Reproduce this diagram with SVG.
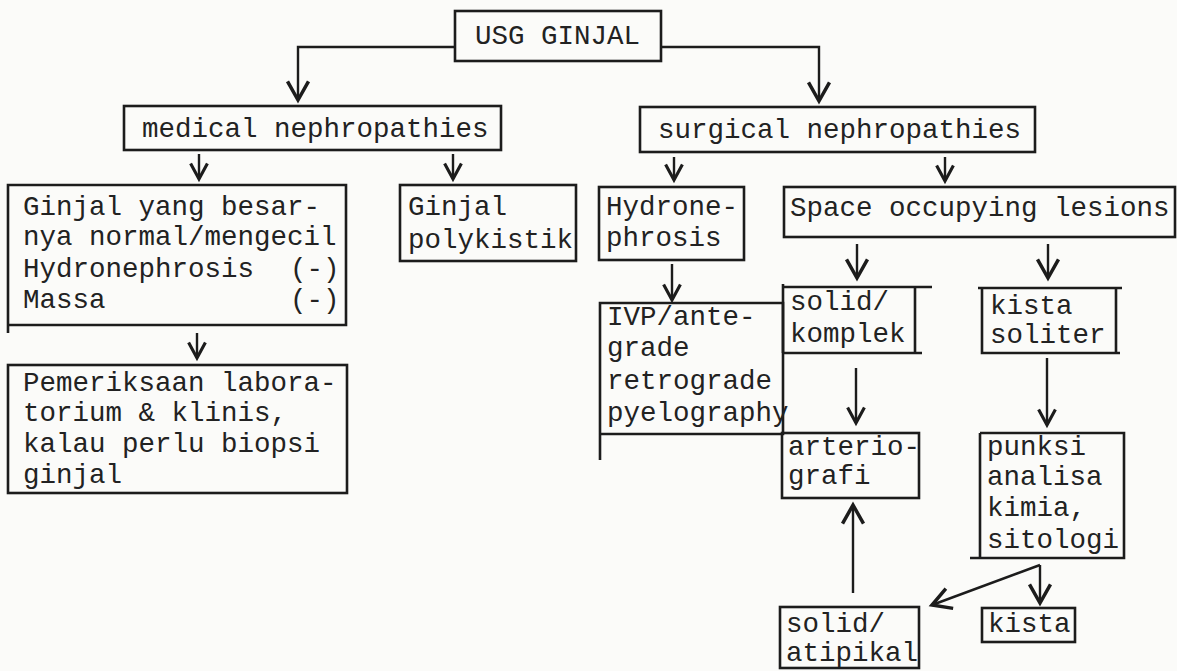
<svg xmlns="http://www.w3.org/2000/svg" width="1177" height="671" viewBox="0 0 1177 671">
<defs>
<style>
.bx{fill:none;stroke:#1c1c1c;stroke-width:2.6}
.cn{fill:none;stroke:#1c1c1c;stroke-width:2.4}
text{font-family:"Liberation Mono","Courier New",monospace;font-size:27.5px;fill:#222}
</style>
<marker id="ah" markerUnits="userSpaceOnUse" markerWidth="24" markerHeight="24" viewBox="-16 -10 18 20" refX="0" refY="0" orient="auto" overflow="visible">
<path d="M-13,-7 L0,0 L-13,7" fill="none" stroke="#1c1c1c" stroke-width="2.6"/>
</marker>
<marker id="ahb" markerUnits="userSpaceOnUse" markerWidth="28" markerHeight="28" viewBox="-18 -12 20 24" refX="0" refY="0" orient="auto" overflow="visible">
<path d="M-16,-9 L0,0 L-16,9" fill="none" stroke="#1c1c1c" stroke-width="3"/>
</marker>
</defs>
<rect width="1177" height="671" fill="#fbfbf9"/>
<g id="connectors">
<path class="cn" d="M455,47 H298 V100" marker-end="url(#ahb)"/>
<path class="cn" d="M661,47 H819 V101" marker-end="url(#ahb)"/>
<path class="cn" d="M199,154 V179" marker-end="url(#ah)"/>
<path class="cn" d="M453,154 V179" marker-end="url(#ah)"/>
<path class="cn" d="M674,157 V180" marker-end="url(#ah)"/>
<path class="cn" d="M945,157 V181" marker-end="url(#ah)"/>
<path class="cn" d="M197,333 V358" marker-end="url(#ah)"/>
<path class="cn" d="M672,264 V300" marker-end="url(#ah)"/>
<path class="cn" d="M857,244 V278" marker-end="url(#ahb)"/>
<path class="cn" d="M1048,244 V278" marker-end="url(#ahb)"/>
<path class="cn" d="M856,368 V423" marker-end="url(#ah)"/>
<path class="cn" d="M1047,358 V425" marker-end="url(#ah)"/>
<path class="cn" d="M1040,565 L932,605" marker-end="url(#ahb)"/>
<path class="cn" d="M1040,565 V603" marker-end="url(#ahb)"/>
<path class="cn" d="M853,593 V505" marker-end="url(#ahb)"/>
</g>
<g id="usg"><rect class="bx" x="455" y="11" width="206" height="50"/><text x="475" y="44">USG GINJAL</text></g>
<g id="medical"><rect class="bx" x="124" y="106" width="377" height="44"/><text x="142" y="137">medical nephropathies</text></g>
<g id="surgical"><rect class="bx" x="640" y="107" width="395" height="45"/><text x="658" y="138">surgical nephropathies</text></g>
<g id="ginjal-normal"><path class="bx" d="M8,185 H346 V325 H8 Z M8,325 V333"/>
<text x="23" y="215">Ginjal yang besar-</text><text x="23" y="245">nya normal/mengecil</text><text x="23" y="277">Hydronephrosis</text><text x="290" y="277">(-)</text><text x="23" y="308">Massa</text><text x="290" y="308">(-)</text></g>
<g id="pemeriksaan"><rect class="bx" x="8" y="365" width="339" height="128"/>
<text x="23" y="391">Pemeriksaan labora-</text><text x="23" y="421">torium &amp; klinis,</text><text x="23" y="452">kalau perlu biopsi</text><text x="23" y="483">ginjal</text></g>
<g id="polykistik"><rect class="bx" x="400" y="185" width="176" height="76"/><text x="408" y="215">Ginjal</text><text x="408" y="248">polykistik</text></g>
<g id="hydro"><rect class="bx" x="599" y="187" width="145" height="73"/><text x="606" y="215">Hydrone-</text><text x="606" y="246">phrosis</text></g>
<g id="space"><rect class="bx" x="784" y="187" width="391" height="50"/><text x="790" y="216">Space occupying lesions</text></g>
<g id="ivp"><path class="bx" d="M600,303 H783 V434 H600 Z M600,434 V460"/>
<text x="607" y="325">IVP/ante-</text><text x="607" y="356">grade</text><text x="607" y="389">retrograde</text><text x="607" y="421">pyelography</text></g>
<g id="solid-komplek"><path class="bx" d="M783,287 H932 M915,287 V353 M783,353 H922 M783,284 V353"/><text x="790" y="310">solid/</text><text x="790" y="342">komplek</text></g>
<g id="kista-soliter"><path class="bx" d="M978,288 H1122 M982,288 V353 H1120 M1116,288 V353"/><text x="990" y="314">kista</text><text x="990" y="343">soliter</text></g>
<g id="arteriografi"><rect class="bx" x="782" y="433" width="137" height="65"/><text x="788" y="455">arterio-</text><text x="788" y="484">grafi</text></g>
<g id="punksi"><path class="bx" d="M980,433 H1124 V558 H970 M980,433 V558"/>
<text x="987" y="455">punksi</text><text x="987" y="485">analisa</text><text x="987" y="516">kimia,</text><text x="987" y="548">sitologi</text></g>
<g id="kista"><rect class="bx" x="982" y="608" width="93" height="34"/><text x="988" y="632">kista</text></g>
<g id="solid-atipikal"><rect class="bx" x="780" y="607" width="139" height="61"/><text x="786" y="632">solid/</text><text x="786" y="661">atipikal</text></g>
</svg>
